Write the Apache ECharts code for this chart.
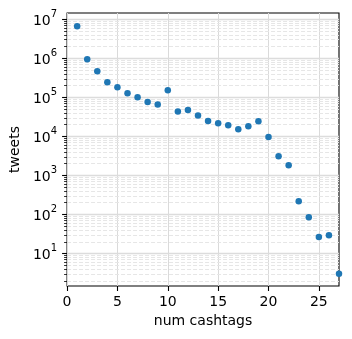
<!DOCTYPE html>
<html>
<head>
<meta charset="utf-8">
<script src="https://cdn.jsdelivr.net/npm/echarts@6/dist/echarts.min.js"></script>
<style>
  html, body { margin: 0; padding: 0; background: #fff; }
  #chart { width: 352px; height: 339px; }
</style>
</head>
<body>
<div id="chart"></div>
<script>
// number of cashtags per tweet vs. tweet count (log scale)
var numCashtags = [1, 2, 3, 4, 5, 6, 7, 8, 9, 10, 11, 12, 13, 14, 15, 16, 17, 18, 19, 20, 21, 22, 23, 24, 25, 26, 27]
var tweets = [6.5e6, 9.3e5, 4.6e5, 2.4e5, 1.78e5, 1.25e5, 9.9e4, 7.5e4, 6.5e4, 1.49e5,
  4.3e4, 4.7e4, 3.4e4, 2.44e4, 2.13e4, 1.9e4, 1.5e4, 1.79e4, 2.4e4, 9.5e3,
  3050, 1790, 215, 84, 26, 29, 3]

var xTicks = [0, 5, 10, 15, 20, 25]
var yMajorTicks = [10, 100, 1000, 10000, 100000, 1000000, 10000000]
var yMinorSteps = [1, 2, 3, 4, 5, 6, 7, 8, 9]

var yMin = 1.45
var yMax = 1.43e7
var fontFamily = 'DejaVu Sans'

// horizontal grid lines (major + minor) and minor ticks, matplotlib style
var yGridData = []
for (var p = 0; p <= 7; p++) {
  yMinorSteps.forEach(function (m) {
    var v = m * Math.pow(10, p)
    if (v >= yMin && v <= yMax) {
      yGridData.push([0, v, m === 1 ? 1 : 0])
    }
  })
}

var chart = echarts.init(document.getElementById('chart'), null, { renderer: 'canvas' })

var option = {
  animation: false,
  backgroundColor: '#fff',
  grid: {
    left: 65,
    right: 13,
    top: 13,
    bottom: 53,
    show: true,
    borderColor: '#000',
    borderWidth: 1.1,
    backgroundColor: 'transparent'
  },
  xAxis: {
    type: 'value',
    min: 0,
    max: 27,
    interval: 5,
    name: 'num cashtags',
    nameLocation: 'middle',
    nameGap: 27,
    nameTextStyle: { fontFamily: fontFamily, fontSize: 14, color: '#000' },
    axisLine: { show: false },
    axisTick: {
      show: true,
      length: 5,
      customValues: xTicks,
      lineStyle: { color: '#000', width: 1.1 }
    },
    axisLabel: {
      customValues: xTicks,
      margin: 9,
      fontFamily: fontFamily,
      fontSize: 14,
      color: '#000'
    },
    splitLine: {
      show: true,
      lineStyle: { color: '#dadada', width: 1 }
    }
  },
  yAxis: {
    type: 'log',
    logBase: 10,
    min: yMin,
    max: yMax,
    name: 'tweets',
    nameLocation: 'middle',
    nameGap: 42,
    nameTextStyle: { fontFamily: fontFamily, fontSize: 14, color: '#000' },
    axisLine: { show: false },
    axisTick: {
      show: true,
      length: 5,
      customValues: yMajorTicks,
      lineStyle: { color: '#000', width: 1.1 }
    },
    axisLabel: {
      customValues: yMajorTicks,
      margin: 10,
      formatter: function (v) {
        var e = Math.round(Math.log(v) / Math.LN10)
        return '{b|10}{s|' + e + '}'
      },
      rich: {
        b: { fontFamily: fontFamily, fontSize: 14, color: '#000', verticalAlign: 'bottom' },
        s: { fontFamily: fontFamily, fontSize: 10, color: '#000', padding: [0, 0, 9, 0] }
      }
    },
    splitLine: { show: false }
  },
  series: [
    {
      type: 'custom',
      z: 1,
      silent: true,
      clip: false,
      data: yGridData,
      renderItem: function (params, api) {
        var cs = params.coordSys
        var y = Math.round(api.coord([0, api.value(1)])[1]) + 0.5
        var major = api.value(2) === 1
        var children = [
          {
            type: 'line',
            shape: { x1: cs.x, y1: y, x2: cs.x + cs.width, y2: y },
            style: major
              ? { stroke: '#dcdcdc', lineWidth: 1.4 }
              : { stroke: '#e6e6e6', lineWidth: 1, lineDash: [4, 2] }
          }
        ]
        if (!major) {
          children.push({
            type: 'line',
            shape: { x1: cs.x - 3, y1: y, x2: cs.x, y2: y },
            style: { stroke: '#000', lineWidth: 0.8 }
          })
        }
        return { type: 'group', children: children }
      }
    },
    {
      type: 'scatter',
      z: 3,
      symbolSize: 6.5,
      itemStyle: { color: '#1f77b4', opacity: 1 },
      data: numCashtags.map(function (x, i) { return [x, tweets[i]] })
    }
  ]
}

chart.setOption(option)
</script>
</body>
</html>
